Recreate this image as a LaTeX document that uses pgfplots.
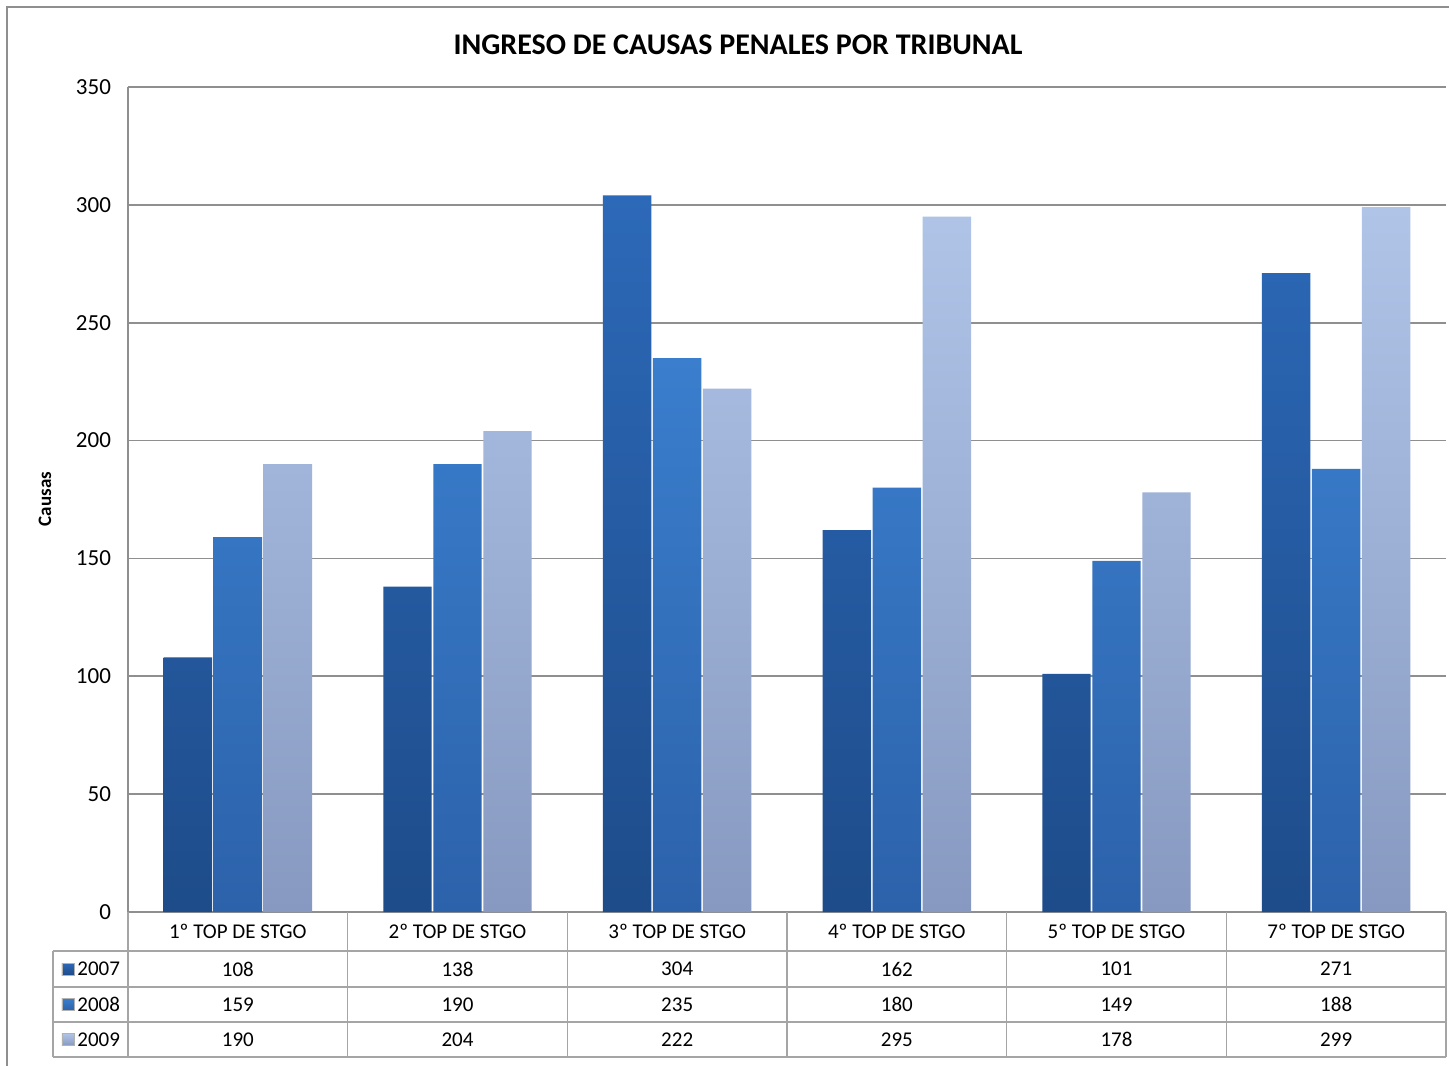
\documentclass[border=0pt]{standalone}
\usepackage{pgfplots}
\usepackage{pgfplotstable}
\pgfplotsset{compat=1.18}
\usepackage{fontspec}
\setmainfont{Carlito}
\definecolor{c7top}{HTML}{2C69B8}
\definecolor{c7bot}{HTML}{1E4C8A}
\definecolor{c8top}{HTML}{3A7ECD}
\definecolor{c8bot}{HTML}{2C62AA}
\definecolor{c9top}{HTML}{B0C4E8}
\definecolor{c9bot}{HTML}{8799C0}
\definecolor{gridc}{HTML}{8F8F8F}
\definecolor{tabc}{HTML}{A5A5A5}

\pgfplotstableread{
x y2007 y2008 y2009
0 108 159 190
1 138 190 204
2 304 235 222
3 162 180 295
4 101 149 178
5 271 188 299
}\data

\begin{document}
\begin{tikzpicture}[x=1pt,y=1pt]
\useasboundingbox (-64,-76.5) rectangle (660.5,456);
\fill[white] (-64,-76.5) rectangle (660.5,456);
\draw[gridc, line width=0.8pt] (-60.5,-90) -- (-60.5,452.5) -- (680,452.5);
\begin{axis}[at={(0,0)}, anchor=south west,
  scale only axis, width=659pt, height=412.5pt,
  ybar=0.8pt, bar width=24.2pt,
  xmin=-0.5, xmax=5.5, ymin=0, ymax=350,
  xtick=\empty, ytick={0,50,...,350},
  ymajorgrids, grid style={gridc, line width=0.8pt},
  axis line style={gridc, line width=0.8pt},
  axis x line*=bottom, axis y line*=left,
  major tick length=0pt,
  yticklabel style={font=\fontsize{11.5}{13}\selectfont, xshift=-5pt},
  /pgf/number format/assume math mode=true,
]
\addplot[draw=none, top color=c7top, bottom color=c7bot] table[x=x,y=y2007]{\data};
\addplot[draw=none, top color=c8top, bottom color=c8bot] table[x=x,y=y2008]{\data};
\addplot[draw=none, top color=c9top, bottom color=c9bot] table[x=x,y=y2009]{\data};
\end{axis}
% title and y label
\node[font=\bfseries\fontsize{15}{18}\selectfont] at (305,433.5) {INGRESO DE CAUSAS PENALES POR TRIBUNAL};
\node[rotate=90, font=\bfseries\fontsize{9.5}{11}\selectfont] at (-41.5,206.5) {Causas};
% data table
\begin{scope}[tabc, line width=0.8pt]
\foreach \i in {0,...,6} \draw (109.8333*\i,0) -- (109.8333*\i,-72.5);
\foreach \yy in {-19.5,-37.5,-55,-72.5} \draw (-37.5,\yy) -- (659,\yy);
\draw (-37.5,-19.5) -- (-37.5,-72.5);
\end{scope}
\begin{scope}[font=\fontsize{10.5}{12}\selectfont]
\foreach \i/\n in {0/1,1/2,2/3,3/4,4/5,5/7}
  \node at (54.9167+109.8333*\i,-9.75) {\n{}º TOP DE STGO};
\foreach \i in {0,...,5} {
  \pgfplotstablegetelem{\i}{y2007}\of\data
  \node at (54.9167+109.8333*\i,-28.5) {\pgfplotsretval};
  \pgfplotstablegetelem{\i}{y2008}\of\data
  \node at (54.9167+109.8333*\i,-46.25) {\pgfplotsretval};
  \pgfplotstablegetelem{\i}{y2009}\of\data
  \node at (54.9167+109.8333*\i,-63.75) {\pgfplotsretval};
}
\shade[top color=c7top, bottom color=c7bot, draw=gray!60, line width=0.3pt] (-33,-31.5) rectangle (-27,-25.5);
\shade[top color=c8top, bottom color=c8bot, draw=gray!60, line width=0.3pt] (-33,-49.25) rectangle (-27,-43.25);
\shade[top color=c9top, bottom color=c9bot, draw=gray!60, line width=0.3pt] (-33,-66.75) rectangle (-27,-60.75);
\node[anchor=west, inner sep=0pt] at (-25.5,-28.5) {2007};
\node[anchor=west, inner sep=0pt] at (-25.5,-46.25) {2008};
\node[anchor=west, inner sep=0pt] at (-25.5,-63.75) {2009};
\end{scope}
\end{tikzpicture}
\end{document}
